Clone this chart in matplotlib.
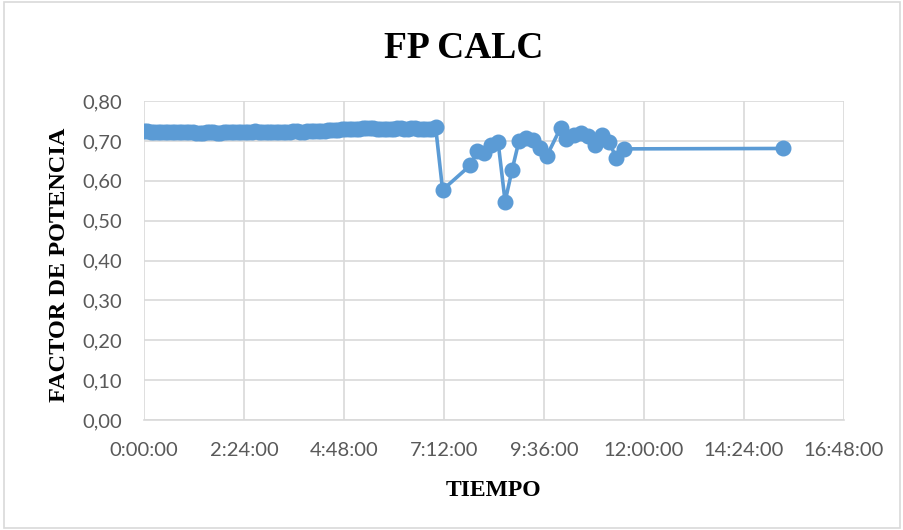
import matplotlib
matplotlib.use("Agg")
import matplotlib.pyplot as plt
from matplotlib.ticker import FuncFormatter, MultipleLocator
from matplotlib.patches import Rectangle

# time in minutes since start, power factor
flat_min = [0, 5, 10, 15, 20, 25, 30, 35, 40, 45, 50, 55, 60, 65, 70, 75, 80,
            85, 90, 95, 100, 105, 110, 115, 120, 125, 130, 135, 140, 145, 150,
            155, 160, 165, 170, 175, 180, 185, 190, 195, 200, 205, 210, 215,
            220, 225, 230, 235, 240, 245, 250, 255, 260, 265, 270, 275, 280,
            285, 290, 295, 300, 305, 310, 315, 320, 325, 330, 335, 340, 345,
            350, 355, 360, 365, 370, 375, 380, 385, 390, 395, 400, 405, 410,
            415, 420]
flat_fp = [0.725, 0.724, 0.723, 0.722, 0.722, 0.723, 0.722, 0.722, 0.722,
           0.723, 0.723, 0.722, 0.722, 0.722, 0.722, 0.721, 0.721, 0.721,
           0.722, 0.722, 0.722, 0.721, 0.721, 0.722, 0.722, 0.722, 0.722,
           0.722, 0.722, 0.723, 0.723, 0.723, 0.724, 0.723, 0.723, 0.723,
           0.723, 0.722, 0.722, 0.723, 0.723, 0.723, 0.723, 0.724, 0.724,
           0.723, 0.723, 0.724, 0.724, 0.725, 0.725, 0.726, 0.726, 0.727,
           0.727, 0.728, 0.728, 0.729, 0.729, 0.730, 0.730, 0.731, 0.731,
           0.732, 0.733, 0.733, 0.732, 0.731, 0.730, 0.730, 0.731, 0.731,
           0.731, 0.732, 0.732, 0.731, 0.731, 0.732, 0.732, 0.731, 0.731,
           0.731, 0.730, 0.731, 0.734]

late_min = [430, 470, 480, 490, 500, 510, 520, 530, 540, 550, 560, 570, 580,
            600, 608, 619, 630, 640, 649, 659, 670, 680, 691, 920]
late_fp = [0.577, 0.639, 0.675, 0.670, 0.690, 0.696, 0.548, 0.627, 0.700,
           0.708, 0.702, 0.681, 0.662, 0.733, 0.704, 0.715, 0.720, 0.713,
           0.690, 0.714, 0.697, 0.657, 0.680, 0.681]

times_h = [m / 60 for m in flat_min + late_min]
fp = flat_fp + late_fp

blue = "#5B9BD5"
grid = "#D9D9D9"
tick_col = "#595959"

fig = plt.figure(figsize=(9.04, 5.30), dpi=100)
ax = fig.add_axes([0.1593, 0.2075, 0.7743, 0.6019])

ax.plot(times_h, fp, color=blue, lw=2.6, marker="o", ms=10.5,
        markeredgecolor=blue, markerfacecolor=blue, zorder=3)

ax.set_xlim(0, 16.8)
ax.set_ylim(0, 0.8)
ax.xaxis.set_major_locator(MultipleLocator(2.4))
ax.yaxis.set_major_locator(MultipleLocator(0.1))


def fmt_time(v, pos):
    total = int(round(v * 60))
    return f"{total // 60}:{total % 60:02d}:00"


ax.xaxis.set_major_formatter(FuncFormatter(fmt_time))
ax.yaxis.set_major_formatter(FuncFormatter(lambda v, p: f"{v:.2f}".replace(".", ",")))

ax.grid(True, color=grid, lw=1.2, zorder=0)
ax.set_axisbelow(True)
for s in ["top", "right", "left"]:
    ax.spines[s].set_visible(False)
ax.spines["bottom"].set_color(grid)
ax.spines["bottom"].set_linewidth(1.2)
ax.tick_params(axis="x", length=0, labelsize=14.5, labelcolor=tick_col, pad=16)
ax.tick_params(axis="y", length=0, labelsize=14.5, labelcolor=tick_col, pad=16)
for lab in ax.get_xticklabels() + ax.get_yticklabels():
    lab.set_family("Lato")

fig.text(0.513, 0.909, "FP CALC", ha="center", va="center",
         family="Liberation Serif", weight="bold", fontsize=27)
fig.text(0.546, 0.075, "TIEMPO", ha="center", va="center",
         family="Liberation Serif", weight="bold", fontsize=17)
fig.text(0.066, 0.5, "FACTOR DE POTENCIA", ha="center", va="center",
         rotation=90, family="Liberation Serif", weight="bold", fontsize=17.5)

fig.patches.append(Rectangle((0.004, 0.004), 0.992, 0.992,
                             transform=fig.transFigure, fill=False,
                             edgecolor=grid, lw=1.2))

fig.savefig("out.png", dpi=100)
